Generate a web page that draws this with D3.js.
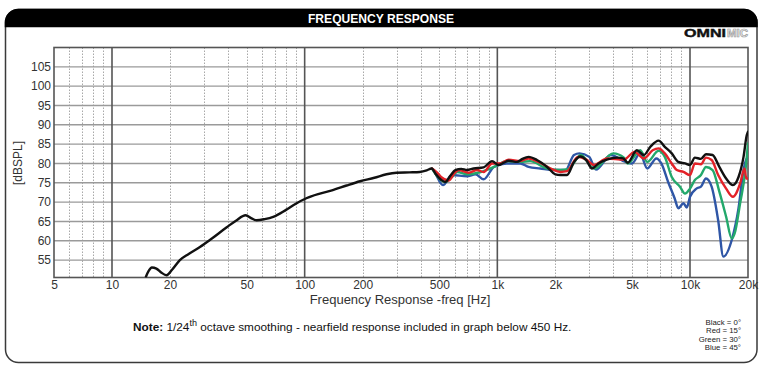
<!DOCTYPE html>
<html>
<head>
<meta charset="utf-8">
<script src="https://cdn.jsdelivr.net/npm/d3@7"></script>
<style>
  html, body { margin: 0; padding: 0; background: #ffffff; }
  svg { display: block; font-family: "Liberation Sans", Arial, sans-serif; }
</style>
</head>
<body>
<svg id="chart" width="762" height="372"></svg>
<script>
// ---------- DATA ----------
const xTickValues = [5, 10, 20, 50, 100, 200, 500, 1000, 2000, 5000, 10000, 20000];
const xTickLabels = ["5", "10", "20", "50", "100", "200", "500", "1k", "2k", "5k", "10k", "20k"];
const yTickValues = [55, 60, 65, 70, 75, 80, 85, 90, 95, 100, 105];

// Black = 0° (includes nearfield below ~450 Hz)
const freqBlack = [15, 15.5, 16.1, 17, 18, 19.2, 20.5, 22.5, 25, 28.6, 33, 39.4, 44, 49.4, 53, 56.3, 62, 68.7, 80, 90, 102, 120, 140, 165, 194, 230, 266, 300, 350, 396, 430, 456,
  480, 510, 537, 570, 605, 650, 696, 754, 849, 939, 1016, 1080, 1145, 1265, 1350, 1453, 1605, 1812, 2000, 2127, 2300, 2500, 2700, 2900, 3100, 3350, 3700, 4180, 4500, 4750, 5300, 5760, 6220, 6870, 7400, 8040, 8700, 9420, 10000, 10600, 11400, 12100, 13100, 14200, 15400, 16700, 17860, 18960, 19700, 20000];
const dbBlack = [50.7, 52.2, 53.1, 52.8, 51.8, 51.1, 52.5, 55.0, 56.6, 58.4, 60.6, 63.5, 65.2, 66.6, 65.8, 65.3, 65.6, 66.2, 68.0, 69.6, 71.0, 72.2, 73.1, 74.3, 75.4, 76.3, 77.2, 77.6, 77.7, 77.8, 78.2, 78.7,
  77.2, 75.8, 75.2, 76.8, 78.3, 78.6, 78.3, 78.7, 79.0, 80.6, 79.6, 80.2, 80.7, 80.4, 81.2, 81.7, 80.9, 79.1, 77.2, 77.0, 77.0, 80.4, 81.8, 80.8, 78.7, 80.0, 81.0, 81.5, 81.3, 80.2, 83.4, 82.2, 84.3, 85.9, 84.3, 82.6, 80.4, 80.0, 79.6, 81.5, 81.2, 82.4, 82.2, 79.1, 76.1, 74.4, 76.5, 81.7, 87.3, 88.2];

// Red = 15°
const freqRed = [458, 490, 510, 560, 600, 630, 710, 785, 849, 939, 1036, 1145, 1315, 1453, 1635, 1895, 2127, 2300, 2620, 2900, 3180, 3700, 4540, 5150, 5760, 6400, 6870, 7400, 8040, 8540, 9250, 10000, 10600, 11400, 12100, 12950, 14000, 15400, 16700, 18200, 19200, 19600, 20000];
const dbRed = [78.7, 77.5, 76.5, 75.6, 77.5, 78.3, 77.6, 78.3, 77.8, 80.0, 80.0, 81.0, 80.6, 81.3, 80.4, 78.7, 77.8, 78.0, 81.7, 81.0, 79.6, 81.3, 81.0, 83.0, 81.3, 83.4, 83.9, 82.6, 80.0, 78.3, 77.8, 77.0, 80.0, 79.8, 81.5, 80.9, 77.0, 73.5, 71.4, 74.8, 78.7, 76.1, 76.1];

// Green = 30°
const freqGreen = [458, 500, 537, 580, 620, 696, 820, 960, 1120, 1315, 1480, 1812, 2127, 2350, 2710, 3180, 4000, 4540, 4750, 5520, 6000, 6870, 7400, 8040, 8870, 9420, 10000, 10600, 11400, 12100, 13100, 14200, 15400, 16470, 17050, 18200, 19400, 20000];
const dbGreen = [78.7, 76.1, 75.2, 76.5, 77.8, 77.2, 77.8, 79.1, 80.6, 80.4, 80.6, 78.7, 78.3, 78.6, 82.2, 78.7, 82.6, 81.5, 80.0, 83.4, 80.4, 83.3, 81.7, 76.5, 74.0, 72.2, 73.5, 75.7, 77.0, 79.1, 78.3, 72.7, 66.2, 60.6, 61.9, 69.7, 78.3, 85.2];

// Blue = 45°
const freqBlue = [458, 470, 522, 582, 696, 770, 849, 960, 1120, 1315, 1453, 1670, 1960, 2260, 2500, 2670, 3000, 3250, 3880, 4620, 5000, 5500, 6000, 6690, 7100, 7700, 8320, 8700, 9250, 9620, 10000, 10800, 11400, 12100, 12950, 14000, 14900, 16470, 17860, 18960, 19700, 20000];
const dbBlue = [78.7, 78.0, 74.4, 77.0, 76.7, 77.2, 75.9, 79.1, 80.0, 80.0, 79.1, 78.7, 78.3, 78.3, 82.2, 82.6, 81.7, 78.4, 82.2, 80.4, 80.0, 82.6, 78.7, 81.3, 80.0, 75.2, 71.0, 68.4, 69.7, 68.6, 71.4, 73.5, 74.0, 76.1, 74.0, 65.3, 55.9, 60.2, 68.4, 78.3, 81.3, 81.3];

const seriesNames = ["Blue", "Green", "Red", "Black"];
const seriesColors = ["#2f56a6", "#23a86b", "#e32228", "#111111"];
const legendLines = ["Black = 0\u00b0", "Red = 15\u00b0", "Green = 30\u00b0", "Blue = 45\u00b0"];

// ---------- CHART ----------
const svg = d3.select("#chart");
const L = 54, R = 748, T = 47.5, B = 277.5;

const x = d3.scaleLog().domain([5, 20000]).range([L, R]);
const y = d3.scaleLinear().domain([50.5, 110]).range([B, T]);

// Outer frame
const fx0 = 5.5, fx1 = 757, fy0 = 9.5, fy1 = 362.5, rr = 13;
svg.append("rect").attr("x", fx0).attr("y", fy0).attr("width", fx1 - fx0).attr("height", fy1 - fy0)
  .attr("rx", rr).attr("ry", rr).attr("fill", "#fff").attr("stroke", "#3a3a3a").attr("stroke-width", 1.5);
// Header bar (rounded top corners)
const hb = 26.5;
svg.append("path")
  .attr("d", `M${fx0},${hb} L${fx0},${fy0 + rr} A${rr},${rr} 0 0 1 ${fx0 + rr},${fy0} L${fx1 - rr},${fy0} A${rr},${rr} 0 0 1 ${fx1},${fy0 + rr} L${fx1},${hb} Z`)
  .attr("fill", "#000").attr("stroke", "#000").attr("stroke-width", 1.5);
svg.append("text").attr("x", 381).attr("y", 22.5).attr("text-anchor", "middle")
  .attr("fill", "#fff").attr("font-weight", "bold").attr("font-size", 12.5)
  .attr("textLength", 146).attr("lengthAdjust", "spacingAndGlyphs")
  .text("FREQUENCY RESPONSE");

// OMNIMIC logo
svg.append("text").attr("x", 684).attr("y", 37).attr("font-weight", "bold").attr("font-size", 11.5)
  .attr("fill", "#111").attr("stroke", "#111").attr("stroke-width", 0.4)
  .attr("textLength", 42).attr("lengthAdjust", "spacingAndGlyphs").text("OMNI");
svg.append("text").attr("x", 727).attr("y", 37).attr("font-weight", "bold").attr("font-size", 11.5)
  .attr("fill", "#f4f4f4").attr("stroke", "#9a9a9a").attr("stroke-width", 0.7)
  .attr("textLength", 21).attr("lengthAdjust", "spacingAndGlyphs").text("MIC");

// Grid: minor verticals (dotted)
const decades = [10, 100, 1000, 10000];
const minor = x.ticks().filter(v => v > 5 && v < 20000 && !decades.includes(v));
svg.append("g").selectAll("line").data(minor).join("line")
  .attr("x1", d => Math.round(x(d)) + 0.5).attr("x2", d => Math.round(x(d)) + 0.5)
  .attr("y1", T).attr("y2", B)
  .attr("stroke", "#a8a8a8").attr("stroke-width", 1).attr("stroke-dasharray", "1.5,1.5");

// Horizontal grid
svg.append("g").selectAll("line").data(yTickValues).join("line")
  .attr("x1", L).attr("x2", R)
  .attr("y1", d => y(d)).attr("y2", d => y(d))
  .attr("stroke", "#9a9a9a").attr("stroke-width", 1.4);

// Decade verticals
svg.append("g").selectAll("line").data(decades).join("line")
  .attr("x1", d => x(d)).attr("x2", d => x(d))
  .attr("y1", T).attr("y2", B)
  .attr("stroke", "#555").attr("stroke-width", 1.6);

// Plot border
svg.append("rect").attr("x", L).attr("y", T).attr("width", R - L).attr("height", B - T)
  .attr("fill", "none").attr("stroke", "#555").attr("stroke-width", 1.6);

// Axes (labels only)
const yAxis = svg.append("g").attr("transform", `translate(${L},0)`)
  .call(d3.axisLeft(y).tickValues(yTickValues).tickSize(0).tickPadding(3));
yAxis.select(".domain").remove();
yAxis.selectAll("text").attr("font-size", 12).attr("fill", "#333").attr("font-family", "Liberation Sans, Arial, sans-serif");

const xAxis = svg.append("g").attr("transform", `translate(0,${B})`)
  .call(d3.axisBottom(x).tickValues(xTickValues).tickFormat((d, i) => xTickLabels[i]).tickSize(0).tickPadding(3));
xAxis.select(".domain").remove();
xAxis.selectAll("text").attr("font-size", 12).attr("fill", "#333").attr("font-family", "Liberation Sans, Arial, sans-serif");

// Axis titles
svg.append("text").attr("x", 400).attr("y", 304).attr("text-anchor", "middle")
  .attr("font-size", 13).attr("fill", "#333").text("Frequency Response -freq [Hz]");
svg.append("text").attr("transform", "translate(22,163) rotate(-90)").attr("text-anchor", "middle")
  .attr("font-size", 12).attr("fill", "#333").text("[dBSPL]");

// Curves
const clip = svg.append("clipPath").attr("id", "plotclip");
clip.append("rect").attr("x", L).attr("y", T).attr("width", R - L).attr("height", B - T);

const seriesData = {
  Blue: [freqBlue, dbBlue],
  Green: [freqGreen, dbGreen],
  Red: [freqRed, dbRed],
  Black: [freqBlack, dbBlack]
};
const line = d3.line().x(d => x(d[0])).y(d => y(d[1])).curve(d3.curveMonotoneX);
const gCurves = svg.append("g").attr("clip-path", "url(#plotclip)");
seriesNames.forEach((name, i) => {
  const [f, v] = seriesData[name];
  const pts = f.map((fr, k) => [fr, v[k]]);
  gCurves.append("path").datum(pts).attr("d", line)
    .attr("fill", "none").attr("stroke", seriesColors[i]).attr("stroke-width", 2.4)
    .attr("stroke-linejoin", "round").attr("stroke-linecap", "round");
});

// Note
const note = svg.append("text").attr("x", 133).attr("y", 331).attr("font-size", 11.8).attr("fill", "#111");
note.append("tspan").attr("font-weight", "bold").text("Note: ");
note.append("tspan").text("1/24");
note.append("tspan").attr("font-size", 9).attr("dy", -5).text("th");
note.append("tspan").attr("dy", 5).text(" octave smoothing - nearfield response included in graph below 450 Hz.");

// Legend
svg.append("g").selectAll("text").data(legendLines).join("text")
  .attr("x", 741).attr("y", (d, i) => 325 + i * 8.3)
  .attr("text-anchor", "end").attr("font-size", 7.8).attr("fill", "#222")
  .text(d => d);
</script>
</body>
</html>
